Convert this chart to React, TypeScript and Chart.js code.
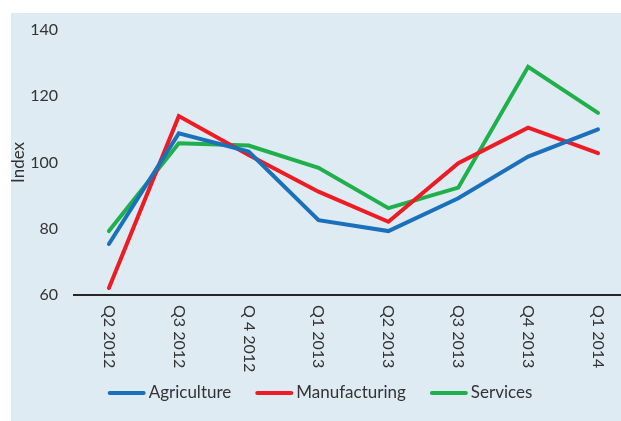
import React, { useEffect, useRef } from "react";
import { Chart, registerables } from "chart.js";

Chart.register(...registerables);

const categories = ["Q2 2012", "Q3 2012", "Q 4 2012", "Q1 2013", "Q2 2013", "Q3 2013", "Q4 2013", "Q1 2014"];
const agriculture = [75.4, 108.8, 103.3, 82.6, 79.3, 89.2, 101.8, 110.0];
const manufacturing = [62.1, 114.0, 102.3, 91.2, 82.1, 99.8, 110.5, 102.8];
const services = [79.3, 105.8, 105.1, 98.4, 86.2, 92.4, 128.9, 115.0];
const seriesNames = ["Agriculture", "Manufacturing", "Services"];
const seriesColors = ["#1b70bb", "#ed1c24", "#1fb04b"];
const yTicks = [60, 80, 100, 120, 140];

const FONT = "Lato, 'Open Sans', sans-serif";
const TEXT = "#333333";

const decor = {
  id: "decor",
  beforeDraw(chart: any) {
    const ctx = chart.ctx;
    ctx.save();
    ctx.fillStyle = "#deebf3";
    ctx.fillRect(11, 13, 621 - 11, 421 - 13);
    ctx.restore();
  },
  afterDraw(chart: any) {
    const ctx = chart.ctx;
    const xs = chart.scales.x;
    ctx.save();
    ctx.fillStyle = TEXT;
    ctx.font = `16px ${FONT}`;
    ctx.textAlign = "left";
    ctx.textBaseline = "middle";
    categories.forEach((c, i) => {
      const x = xs.getPixelForValue(i);
      ctx.save();
      ctx.translate(x, 305);
      ctx.rotate(Math.PI / 2);
      ctx.fillText(c, 0, 0);
      ctx.restore();
    });
    // legend
    const lineW = 38;
    const gap1 = 3;
    const gap2 = 24;
    ctx.font = `17px ${FONT}`;
    const widths = seriesNames.map((n) => ctx.measureText(n).width);
    const total = widths.reduce((a, w) => a + lineW + gap1 + w, 0) + gap2 * (seriesNames.length - 1);
    let x = 320 - total / 2;
    const y = 393;
    chart.data.datasets.forEach((ds: any, i: number) => {
      ctx.strokeStyle = ds.borderColor;
      ctx.lineWidth = 4;
      ctx.lineCap = "round";
      ctx.beginPath();
      ctx.moveTo(x + 2, y);
      ctx.lineTo(x + lineW - 2, y);
      ctx.stroke();
      ctx.fillStyle = TEXT;
      ctx.fillText(ds.label, x + lineW + gap1, y);
      x += lineW + gap1 + widths[i] + gap2;
    });
    ctx.restore();
  },
};

export default function App() {
  const ref = useRef<HTMLCanvasElement>(null);
  useEffect(() => {
    if (!ref.current) return;
    const mk = (vals: number[]) => vals.map((v, i) => ({ x: i, y: v }));
    const all = [agriculture, manufacturing, services];
    const chart = new Chart(ref.current, {
      type: "line",
      data: {
        datasets: all.map((vals, i) => ({
          label: seriesNames[i],
          data: mk(vals),
          borderColor: seriesColors[i],
          backgroundColor: seriesColors[i],
          borderWidth: 4,
          pointRadius: 0,
          borderCapStyle: "round",
          borderJoinStyle: "miter",
          tension: 0,
        })),
      },
      options: {
        animation: false,
        responsive: false,
        maintainAspectRatio: false,
        layout: { padding: { left: 0, top: 30, right: 0, bottom: 0 } },
        plugins: { legend: { display: false }, tooltip: { enabled: false } },
        scales: {
          x: {
            type: "linear",
            min: -0.5,
            max: (621 - 109) / ((598 - 109) / 7),
            grid: { display: false, drawTicks: false },
            border: { display: true, color: "#262626", width: 2 },
            ticks: { display: false },
            afterBuildTicks: (s: any) => {
              s.ticks = categories.map((_, i) => ({ value: i }));
            },
            afterFit: (s: any) => {
              s.height = 421 - 295;
            },
          },
          y: {
            min: 60,
            max: 140,
            grid: { display: false, drawTicks: false },
            border: { display: false },
            afterBuildTicks: (s: any) => {
              s.ticks = yTicks.map((v) => ({ value: v }));
            },
            ticks: {
              padding: 16,
              color: TEXT,
              font: { family: FONT, size: 16 },
            },
            title: {
              display: true,
              text: "Index",
              color: TEXT,
              font: { family: FONT, size: 17 },
              padding: { top: 8, bottom: 0 },
            },
            afterFit: (s: any) => {
              s.width = 74;
            },
          },
        },
      },
      plugins: [decor],
    } as any);
    return () => chart.destroy();
  }, []);
  return (
    <div style={{ position: "fixed", left: 0, top: 0, width: 621, height: 421, background: "#fff" }}>
      <canvas ref={ref} width={621} height={421} style={{ display: "block" }} />
    </div>
  );
}
